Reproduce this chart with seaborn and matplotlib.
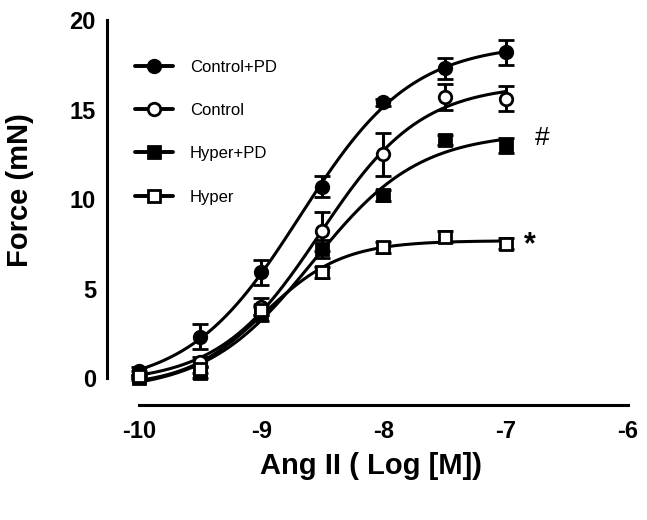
import numpy as np
import pandas as pd
import matplotlib
matplotlib.use("Agg")
import matplotlib.pyplot as plt
from matplotlib.lines import Line2D
import seaborn as sns

# ---- data ----
log_dose = [-10.0, -9.5, -9.0, -8.5, -8.0, -7.5, -7.0]
series_names = ["Control+PD", "Control", "Hyper+PD", "Hyper"]
control_pd = [0.4, 2.3, 5.9, 10.7, 15.4, 17.3, 18.2]
control_pd_err = [0.2, 0.7, 0.7, 0.6, 0.2, 0.6, 0.7]
control = [0.2, 0.9, 4.0, 8.2, 12.5, 15.7, 15.6]
control_err = [0.2, 0.3, 0.5, 1.1, 1.2, 0.7, 0.7]
hyper_pd = [0.0, 0.3, 3.6, 7.2, 10.2, 13.3, 13.0]
hyper_pd_err = [0.1, 0.3, 0.4, 0.5, 0.3, 0.3, 0.4]
hyper = [0.1, 0.5, 3.8, 5.9, 7.3, 7.9, 7.5]
hyper_err = [0.1, 0.2, 0.3, 0.3, 0.3, 0.3, 0.3]
x_ticks = [-10, -9, -8, -7, -6]
y_ticks = [0, 5, 10, 15, 20]

means = [control_pd, control, hyper_pd, hyper]
errs = [control_pd_err, control_err, hyper_pd_err, hyper_err]
markers = ["o", "o", "s", "s"]
fills = ["black", "white", "black", "white"]


def fit_sigmoid(x, y):
    """Least-squares 4-parameter logistic fit (grid over EC50 & slope)."""
    x = np.asarray(x, float)
    y = np.asarray(y, float)
    best = None
    for ec in np.linspace(-9.8, -7.2, 131):
        for h in np.linspace(0.4, 2.5, 43):
            f = 1.0 / (1.0 + 10 ** ((ec - x) * h))
            A = np.column_stack([np.ones_like(x), f])
            coef, *_ = np.linalg.lstsq(A, y, rcond=None)
            sse = ((A @ coef - y) ** 2).sum()
            if best is None or sse < best[0]:
                best = (sse, ec, h, coef)
    _, ec, h, coef = best
    return lambda xx: coef[0] + coef[1] / (1.0 + 10 ** ((ec - xx) * h))


xs = np.linspace(min(log_dose), max(log_dose), 200)
rows = []
for name, m in zip(series_names, means):
    f = fit_sigmoid(log_dose, m)
    for xv in xs:
        rows.append({"dose": xv, "force": f(xv), "series": name})
curves = pd.DataFrame(rows)

sns.set_style("white")
plt.rcParams["font.family"] = ["Liberation Sans", "DejaVu Sans"]
plt.rcParams["text.color"] = "black"
plt.rcParams["axes.labelcolor"] = "black"
plt.rcParams["xtick.color"] = "black"
plt.rcParams["ytick.color"] = "black"

fig = plt.figure(figsize=(6.47, 5.2), dpi=100)
ax = fig.add_axes([107 / 647, 1 - 405 / 520, 527 / 647, 390 / 520])

sns.lineplot(data=curves, x="dose", y="force", hue="series",
             palette=["black"] * 4, linewidth=2.2, legend=False, ax=ax)

for name, m, e, mk, fc in zip(series_names, means, errs, markers, fills):
    ax.errorbar(log_dose, m, yerr=e, fmt=mk, color="black", mfc=fc, mec="black",
                ms=9, mew=2.0, elinewidth=2.2, capsize=5.5, capthick=2.2, zorder=3)

ax.set_xlim(-10.262, -5.95)
ax.set_ylim(-1.5, 20.28)
ax.set_xticks(x_ticks)
ax.set_yticks(y_ticks)
ax.set_xticklabels([str(t) for t in x_ticks], fontsize=17, fontweight="bold")
ax.set_yticklabels([str(t) for t in y_ticks], fontsize=17, fontweight="bold")
for s in ["top", "right"]:
    ax.spines[s].set_visible(False)
for s in ["left", "bottom"]:
    ax.spines[s].set_linewidth(2.2)
    ax.spines[s].set_color("black")
ax.spines["left"].set_bounds(0, 20)
ax.spines["bottom"].set_bounds(-10, -6)
ax.tick_params(axis="both", direction="out", length=6, width=2.2, color="black")
ax.tick_params(axis="x", pad=5)
ax.tick_params(axis="y", pad=2)
ax.set_xlabel("Ang II ( Log [M])", fontsize=21, fontweight="bold", labelpad=6)
ax.set_ylabel("Force (mN)", fontsize=21, fontweight="bold")
ax.yaxis.set_label_coords(-0.138, 0.55)

ax.text(-6.70, 13.4, "#", fontsize=19, ha="center", va="center")
ax.text(-6.80, 7.4, "*", fontsize=22, fontweight="bold", ha="center", va="center")

handles = [Line2D([0], [0], color="black", lw=2.8, marker=mk, mfc=fc, mec="black",
                  ms=9, mew=2.0) for mk, fc in zip(markers, fills)]
ax.legend(handles, series_names, loc="upper left",
          bbox_to_anchor=(128 / 647, 1 - 53 / 520), bbox_transform=fig.transFigure,
          frameon=False, fontsize=12, handlelength=2.3, handletextpad=1.0,
          labelspacing=1.7, borderaxespad=0)

fig.savefig("out.png", dpi=100)
